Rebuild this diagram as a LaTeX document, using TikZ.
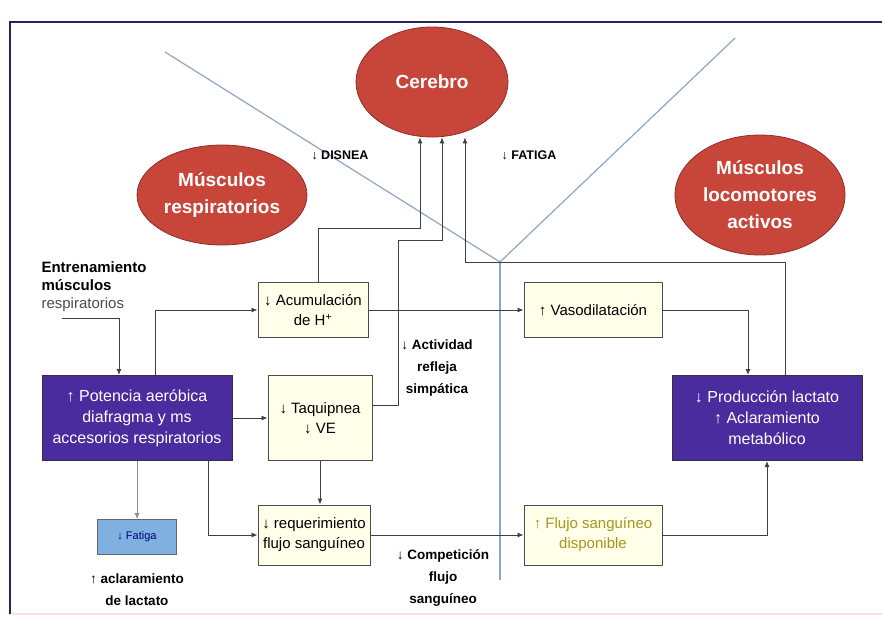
\documentclass[tikz,border=0pt]{standalone}
\usepackage{fontspec}
\setmainfont{Liberation Sans}
\usetikzlibrary{arrows.meta,shapes.geometric}
\definecolor{rojo}{HTML}{C8453A}
\definecolor{morado}{HTML}{4A2C9E}
\definecolor{crema}{HTML}{FFFFEA}
\definecolor{celeste}{HTML}{7FB0E0}
\definecolor{azulgris}{HTML}{8EA6C6}
\definecolor{marco}{HTML}{2B1F5C}
\definecolor{oliva}{HTML}{A8961E}

\begin{document}
\begin{tikzpicture}[x=1pt,y=-1pt,
  elipse/.style={ellipse, fill=rojo, draw=rojo!70!black, line width=0.8pt, text=white,
    font=\bfseries\fontsize{19}{27}\selectfont, align=center, inner sep=0pt},
  caja/.style={draw=black!70, fill=crema, line width=1pt, align=center,
    font=\fontsize{15}{20}\selectfont, inner sep=0pt},
  cajam/.style={draw=black!80, fill=morado, text=white, line width=1pt, align=center,
    font=\fontsize{16}{21}\selectfont, inner sep=0pt, minimum width=190pt, minimum height=85pt},
  etiqueta/.style={font=\bfseries\fontsize{13.5}{22}\selectfont, align=center},
  flecha/.style={-{Latex[length=6pt,width=5pt]}, line width=0.9pt, black!75},
  eje/.style={azulgris, line width=1.2pt}]
\useasboundingbox (0,0) rectangle (882,629);

% marco
\coordinate (m1) at (10,614);
\coordinate (m2) at (10,22);
\coordinate (m3) at (882,22);
\coordinate (m4) at (882,614);
\draw[pink!50, line width=1.5pt] (m1) -- (m4);
\draw[marco, line width=2.5pt] (m1) -- (m2) -- (m3);

% lineas divisorias
\coordinate (vizq) at (165,52);
\coordinate (vder) at (735,38);
\coordinate (vtop) at (500,262);
\coordinate (vbajo) at (500,580);
\draw[eje] (vizq) -- (vtop) -- (vder);
\draw[eje] (vtop) -- (vbajo);

% elipses
\node[elipse, minimum width=152pt, minimum height=110pt] (cerebro) at (432,82) {Cerebro};
\node[elipse, minimum width=170pt, minimum height=100pt] (mresp) at (222,195) {Músculos\\respiratorios};
\node[elipse, minimum width=170pt, minimum height=120pt] (mloco) at (760,195) {Músculos\\locomotores\\activos};

% cajas
\node[caja, minimum width=110pt, minimum height=55pt] (acum) at (313,310) {↓ Acumulación\\de H\textsuperscript{+}};
\node[caja, minimum width=104pt, minimum height=85pt] (taqui) at (320,418) {↓ Taquipnea\\↓ VE};
\node[caja, minimum width=112pt, minimum height=60pt] (requer) at (314,535) {↓ requerimiento\\flujo sanguíneo};
\node[caja, minimum width=138pt, minimum height=55pt] (vaso) at (593,310) {↑ Vasodilatación};
\node[caja, text=oliva, minimum width=138pt, minimum height=60pt] (flujo) at (593,535) {↑ Flujo sanguíneo\\disponible};
\node[cajam] (potencia) at (137,418) {↑ Potencia aeróbica\\diafragma y ms\\accesorios respiratorios};
\node[cajam] (prod) at (767,418) {↓ Producción lactato\\↑ Aclaramiento\\metabólico};
\node[caja, fill=celeste, text=blue!50!black, draw=black!60, font=\fontsize{11}{13}\selectfont,
  minimum width=79pt, minimum height=35pt] (fatbox) at (137,537) {↓ Fatiga};

% etiquetas
\node[etiqueta, font=\bfseries\fontsize{12.5}{15}\selectfont] (disnea) at (340,155) {↓ DISNEA};
\node[etiqueta, font=\bfseries\fontsize{12.5}{15}\selectfont] (fatiga) at (529,155) {↓ FATIGA};
\node[etiqueta, font=\bfseries\fontsize{15}{18}\selectfont, align=left, anchor=north west] (entrena) at (38,258)
  {Entrenamiento\\músculos\\{\mdseries\color{black!70}respiratorios}};
\node[etiqueta] (actividad) at (437,368) {↓ Actividad\\refleja\\simpática};
\node[etiqueta] (competicion) at (443,578) {↓ Competición\\flujo\\sanguíneo};
\node[etiqueta] (aclara) at (137,590) {↑ aclaramiento\\de lactato};

% conectores
\coordinate (subr) at (62,318);
\coordinate (codo) at (119,318);
\coordinate (c1) at (420,228);
\coordinate (c2) at (398,240);
\coordinate (c3) at (785,262);
\draw[flecha] (subr) -- (codo) -- (codo |- potencia.north);
\draw[flecha] ([xshift=18pt]potencia.north) |- (acum.west);
\draw[flecha] (potencia) -- (taqui);
\draw[flecha, black!45] (potencia.south) -- (fatbox.north);
\draw[flecha] ([xshift=71pt]potencia.south) |- (requer.west);
\draw[flecha] (taqui.south) -- (taqui.south |- requer.north);
\draw[flecha] ([xshift=5pt]acum.north) |- (c1) -- (cerebro.south -| c1);
\draw[flecha] ([yshift=13pt]taqui.east) -| (c2) -| ([xshift=10pt]cerebro.south);
\draw[flecha] ([xshift=18pt]prod.north) -- (c3) -| ([xshift=33pt]cerebro.south);
\draw[flecha] (acum) -- (vaso);
\draw[flecha] (vaso.east) -| ([xshift=-19pt]prod.north);
\draw[flecha] (requer) -- (flujo);
\draw[flecha] (flujo.east) -| (prod.south);
\end{tikzpicture}
\end{document}
